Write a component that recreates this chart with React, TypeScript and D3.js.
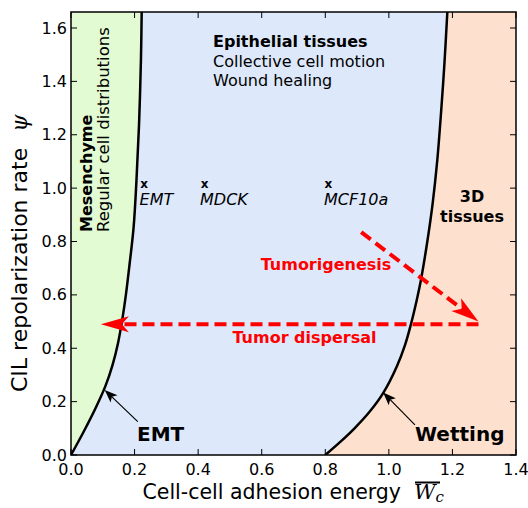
import React from "react";
import * as d3 from "d3";

// ---- data ----
const xTicks = [0, 0.2, 0.4, 0.6, 0.8, 1.0, 1.2, 1.4];
const yTicks = [0, 0.2, 0.4, 0.6, 0.8, 1.0, 1.2, 1.4, 1.6];

// EMT boundary (mesenchyme | epithelial)
const emtPsi = [0, 0.09, 0.18, 0.259, 0.337, 0.42, 0.513, 0.603, 0.712, 0.854, 1.03, 1.237, 1.48, 1.66];
const emtW = [0, 0.041, 0.079, 0.1085, 0.1306, 0.148, 0.162, 0.173, 0.184, 0.197, 0.206, 0.214, 0.220, 0.2224];

// Wetting boundary (epithelial | 3D tissues)
const wetPsi = [0, 0.05, 0.1, 0.16, 0.232, 0.332, 0.413, 0.488, 0.582, 0.65, 0.80, 0.945, 1.10, 1.296, 1.47, 1.66];
const wetW = [0.8, 0.848, 0.892, 0.938, 0.982, 1.025, 1.051, 1.069, 1.088, 1.100, 1.121, 1.138, 1.152, 1.165, 1.175, 1.184];

// cell lines
const cellNames = ["EMT", "MDCK", "MCF10a"];
const cellW = [0.23, 0.42, 0.81];
const cellPsi = [1.0, 1.0, 1.0];

// red arrows: [fromW, fromPsi, toW, toPsi]
const dispersalArrow = [1.282, 0.49, 0.094, 0.49];
const tumorArrow = [0.913, 0.835, 1.282, 0.5];

// annotation arrows: [tailW, tailPsi, tipW, tipPsi]
const emtAnnot = [0.21, 0.125, 0.106, 0.244];
const wetAnnot = [1.082, 0.113, 0.982, 0.234];

const X0 = 71, X1 = 516, Y0 = 455, Y1 = 12;

type Pt = { p: number; w: number };

function headPoints(tx: number, ty: number, fx: number, fy: number, L: number, hw: number, n: number) {
  const dx = tx - fx, dy = ty - fy;
  const len = Math.hypot(dx, dy);
  const ux = dx / len, uy = dy / len;
  const vx = -uy, vy = ux;
  const bx = tx - L * ux, by = ty - L * uy;
  const nx = tx - (L - n) * ux, ny = ty - (L - n) * uy;
  return {
    pts: `${tx},${ty} ${bx + hw * vx},${by + hw * vy} ${nx},${ny} ${bx - hw * vx},${by - hw * vy}`,
    nx, ny,
  };
}

export default function App() {
  const x = d3.scaleLinear().domain([0, 1.4]).range([X0, X1]);
  const y = d3.scaleLinear().domain([0, 1.66]).range([Y0, Y1]);

  const left: Pt[] = emtPsi.map((p, i) => ({ p, w: emtW[i] }));
  const right: Pt[] = wetPsi.map((p, i) => ({ p, w: wetW[i] }));

  const curve = d3.curveCatmullRom.alpha(0.5);
  const areaGreen = d3.area<Pt>().y(d => y(d.p)).x0(x(0)).x1(d => x(d.w)).curve(curve);
  const areaPeach = d3.area<Pt>().y(d => y(d.p)).x0(d => x(d.w)).x1(x(1.4)).curve(curve);
  const line = d3.line<Pt>().x(d => x(d.w)).y(d => y(d.p)).curve(curve);

  const redArrow = (a: number[], key: string) => {
    const fx = x(a[0]), fy = y(a[1]), tx = x(a[2]), ty = y(a[3]);
    const h = headPoints(tx, ty, fx, fy, 28, 8, 7);
    return (
      <g key={key}>
        <line x1={fx} y1={fy} x2={h.nx} y2={h.ny} stroke="#ff0000" strokeWidth={4} strokeDasharray="12,6" />
        <polygon points={h.pts} fill="#ff0000" />
      </g>
    );
  };
  const blackArrow = (a: number[], key: string) => {
    const fx = x(a[0]), fy = y(a[1]), tx = x(a[2]), ty = y(a[3]);
    const h = headPoints(tx, ty, fx, fy, 13, 5, 3);
    return (
      <g key={key}>
        <line x1={fx} y1={fy} x2={h.nx} y2={h.ny} stroke="#000" strokeWidth={1.2} />
        <polygon points={h.pts} fill="#000" />
      </g>
    );
  };

  const font = "DejaVu Sans";

  return (
    <svg width={528} height={508} style={{ position: "absolute", left: 0, top: 0 }} fontFamily={font}>
      <defs>
        <clipPath id="plot">
          <rect x={X0} y={Y1} width={X1 - X0} height={Y0 - Y1} />
        </clipPath>
      </defs>
      <rect x={0} y={0} width={528} height={508} fill="#fff" />
      <g clipPath="url(#plot)">
        <rect x={X0} y={Y1} width={X1 - X0} height={Y0 - Y1} fill="#dde8fb" />
        <path d={areaGreen(left) || ""} fill="#e3fbd3" />
        <path d={areaPeach(right) || ""} fill="#fde0ce" />
        <path d={line(left) || ""} fill="none" stroke="#000" strokeWidth={2.5} />
        <path d={line(right) || ""} fill="none" stroke="#000" strokeWidth={2.5} />
      </g>

      {/* region labels */}
      <text transform="translate(92,232) rotate(-90)" fontSize={16} fontWeight="bold">Mesenchyme</text>
      <text transform="translate(109,232) rotate(-90)" fontSize={16.5}>Regular cell distributions</text>
      <text x={213} y={47} fontSize={16} fontWeight="bold">Epithelial tissues</text>
      <text x={213} y={67} fontSize={16}>Collective cell motion</text>
      <text x={213} y={86} fontSize={16}>Wound healing</text>
      <text x={472} y={202} fontSize={16} fontWeight="bold" textAnchor="middle">3D</text>
      <text x={472} y={222} fontSize={16} fontWeight="bold" textAnchor="middle">tissues</text>

      {/* cell lines */}
      {cellNames.map((n, i) => (
        <g key={n}>
          <text x={x(cellW[i])} y={y(cellPsi[i])} fontSize={12} fontWeight="bold" textAnchor="middle">x</text>
          <text x={x(cellW[i]) - 4.5} y={y(cellPsi[i]) + 16.5} fontSize={16} fontStyle="italic">{n}</text>
        </g>
      ))}

      {/* red arrows */}
      {redArrow(dispersalArrow, "disp")}
      {redArrow(tumorArrow, "tum")}
      <text x={326} y={270} fontSize={16} fontWeight="bold" fill="#ff0000" textAnchor="middle">Tumorigenesis</text>
      <text x={304.5} y={343} fontSize={16} fontWeight="bold" fill="#ff0000" textAnchor="middle">Tumor dispersal</text>

      {/* annotations */}
      {blackArrow(emtAnnot, "emt")}
      {blackArrow(wetAnnot, "wet")}
      <text x={137} y={441} fontSize={20} fontWeight="bold">EMT</text>
      <text x={415} y={441} fontSize={20} fontWeight="bold">Wetting</text>

      {/* frame */}
      <rect x={X0} y={Y1} width={X1 - X0} height={Y0 - Y1} fill="none" stroke="#000" strokeWidth={1.5} />
      {xTicks.map(t => (
        <g key={"x" + t}>
          <line x1={x(t)} x2={x(t)} y1={Y0} y2={Y0 - 6} stroke="#000" strokeWidth={1} />
          <line x1={x(t)} x2={x(t)} y1={Y1} y2={Y1 + 6} stroke="#000" strokeWidth={1} />
          <text x={x(t)} y={Y0 + 20} fontSize={16} textAnchor="middle">{t.toFixed(1)}</text>
        </g>
      ))}
      {yTicks.map(t => (
        <g key={"y" + t}>
          <line x1={X0} x2={X0 + 6} y1={y(t)} y2={y(t)} stroke="#000" strokeWidth={1} />
          <line x1={X1} x2={X1 - 6} y1={y(t)} y2={y(t)} stroke="#000" strokeWidth={1} />
          <text x={X0 - 4} y={y(t)} dy="0.35em" fontSize={16} textAnchor="end">{t.toFixed(1)}</text>
        </g>
      ))}

      {/* axis labels */}
      <text x={401} y={499} fontSize={20.5} textAnchor="end">Cell-cell adhesion energy</text>
      <text x={414} y={499} fontSize={21} fontFamily="DejaVu Serif" fontStyle="italic">W
        <tspan fontSize={15} dy={3}>c</tspan>
      </text>
      <line x1={415} x2={440} y1={482.5} y2={482.5} stroke="#000" strokeWidth={2} />
      <text transform="translate(27,392) rotate(-90)" fontSize={22}>CIL repolarization rate
        <tspan dx={16} fontFamily="DejaVu Serif" fontStyle="italic">ψ</tspan>
      </text>
    </svg>
  );
}
